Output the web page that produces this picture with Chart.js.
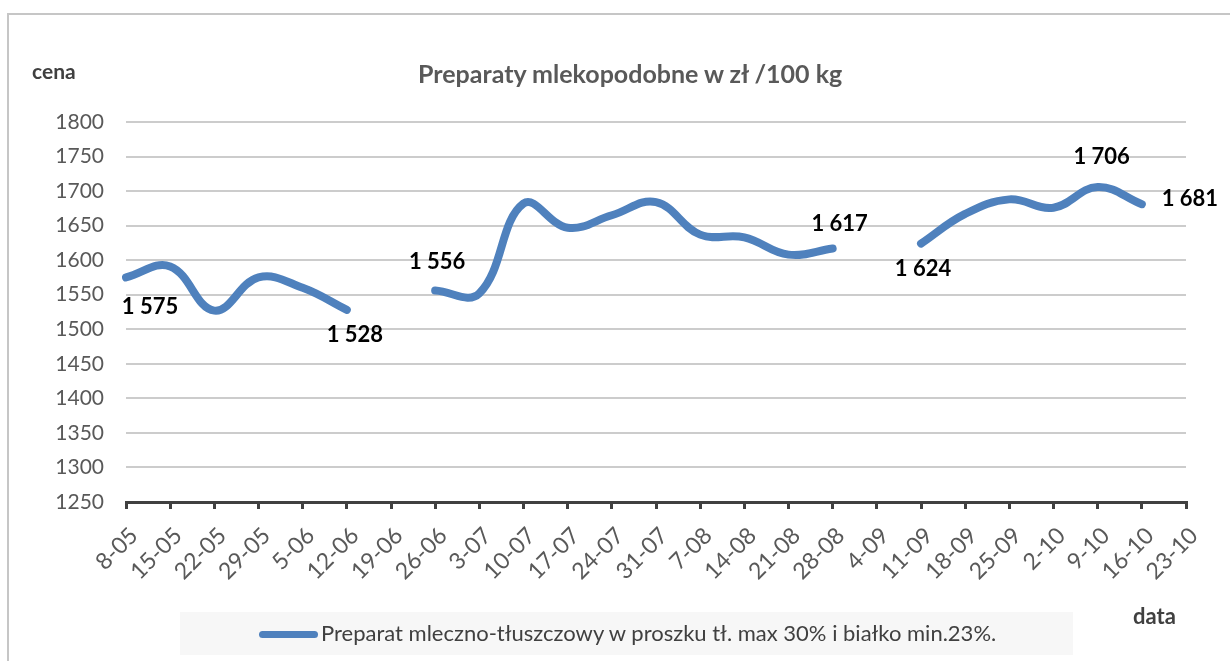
<!DOCTYPE html>
<html>
<head>
<meta charset="utf-8">
<script src="https://cdn.jsdelivr.net/npm/chart.js@4/dist/chart.umd.min.js"></script>
<style>
    body { margin: 0; background: #fff; overflow: hidden; font-family: Lato, sans-serif; }
    #wrap { position: relative; width: 1230px; height: 661px; overflow: hidden; }
    #frame { position: absolute; left: 7px; top: 13px; width: 1300px; height: 700px; border: 2px solid #c6c6c6; }
    #chart { position: absolute; left: 0; top: 0; }
    .txt { position: absolute; white-space: nowrap; line-height: 1; }
    #title { left: 418px; top: 61px; font-size: 25px; font-weight: bold; color: #595959; }
    #ylab { left: 32px; top: 60px; font-size: 21px; font-weight: bold; color: #404040; }
    #xlab { left: 1133px; top: 605px; font-size: 22px; font-weight: bold; color: #404040; }
    #legend { position: absolute; left: 180px; top: 612px; width: 893px; height: 43px; background: #f7f7f7; }
    #legline { position: absolute; left: 259px; top: 631px; width: 59px; height: 7px; border-radius: 4px; background: #4f81bd; }
    #legtxt { left: 321px; top: 622px; font-size: 22px; color: #404040; }
</style>
</head>
<body>
<div id="wrap">
    <div id="frame"></div>
    <div id="legend"></div>
    <div id="legline"></div>
    <canvas id="chart" width="1230" height="661"></canvas>
    <div class="txt" id="title">Preparaty mlekopodobne w zł /100 kg</div>
    <div class="txt" id="ylab">cena</div>
    <div class="txt" id="xlab">data</div>
    <div class="txt" id="legtxt">Preparat mleczno-tłuszczowy w proszku tł. max 30% i białko min.23%.</div>
</div>
<script>
// daty notowań
const dates = ['8-05', '15-05', '22-05', '29-05', '5-06', '12-06', '19-06', '26-06', '3-07', '10-07',
    '17-07', '24-07', '31-07', '7-08', '14-08', '21-08', '28-08', '4-09', '11-09', '18-09',
    '25-09', '2-10', '9-10', '16-10', '23-10'];

// ceny w zł/100 kg (null = brak notowania)
const prices = [1575, 1591, 1527, 1575, 1560, 1528, null, 1556, 1552, 1682,
    1647, 1665, 1684, 1637, 1633, 1608, 1617, null, 1624, 1667,
    1688, 1676, 1706, 1681, null];

// oś Y
const yMin = 1250;
const yMax = 1800;
const yStep = 50;

// które punkty mają etykietę i gdzie (przesunięcie względem punktu)
const labelOffsets = {
    0: [24, 29],
    5: [8, 25],
    7: [2, -29],
    16: [7, -25],
    18: [2, 25],
    22: [4, -30],
    23: [48, -5]
};

function fmt(v) {
    return String(v).replace(/\B(?=(\d{3})+(?!\d))/g, ' ');
}

const dataLabels = {
    id: 'dataLabels',
    afterDatasetsDraw(chart) {
        const c = chart.ctx;
        const pts = chart.getDatasetMeta(0).data;
        c.save();
        c.font = 'bold 22px Lato';
        c.fillStyle = '#000';
        c.textAlign = 'center';
        c.textBaseline = 'middle';
        Object.keys(labelOffsets).forEach(k => {
            const i = Number(k);
            const p = pts[i];
            const [dx, dy] = labelOffsets[k];
            c.fillText(fmt(prices[i]), p.x + dx, p.y + dy);
        });
        c.restore();
    }
};

const ctx = document.getElementById('chart').getContext('2d');
new Chart(ctx, {
    type: 'line',
    data: {
        labels: dates,
        datasets: [{
            label: 'Preparat mleczno-tłuszczowy w proszku tł. max 30% i białko min.23%.',
            data: prices,
            borderColor: '#4f81bd',
            borderWidth: 8,
            borderCapStyle: 'round',
            borderJoinStyle: 'round',
            tension: 0.4,
            pointRadius: 0,
            spanGaps: false,
            fill: false
        }]
    },
    options: {
        responsive: false,
        animation: false,
        layout: { padding: { top: 122, right: 44, bottom: 0, left: 0 } },
        plugins: {
            legend: { display: false },
            title: { display: false },
            tooltip: { enabled: false }
        },
        scales: {
            x: {
                offset: false,
                afterFit: s => { s.height = 159; },
                border: { color: '#404040', width: 3 },
                grid: { drawOnChartArea: false, tickLength: 7, color: '#404040', lineWidth: 3 },
                ticks: {
                    autoSkip: false,
                    minRotation: 45,
                    maxRotation: 45,
                    padding: 13,
                    labelOffset: 8,
                    color: '#595959',
                    font: { family: 'Lato', size: 23 }
                }
            },
            y: {
                min: yMin,
                max: yMax,
                afterFit: s => { s.width = 126; },
                border: { display: false },
                grid: { color: '#cccccc', lineWidth: 2, drawTicks: false },
                ticks: {
                    stepSize: yStep,
                    padding: 22,
                    color: '#595959',
                    font: { family: 'Lato', size: 21 },
                    callback: v => String(v)
                }
            }
        }
    },
    plugins: [dataLabels]
});
</script>
</body>
</html>
